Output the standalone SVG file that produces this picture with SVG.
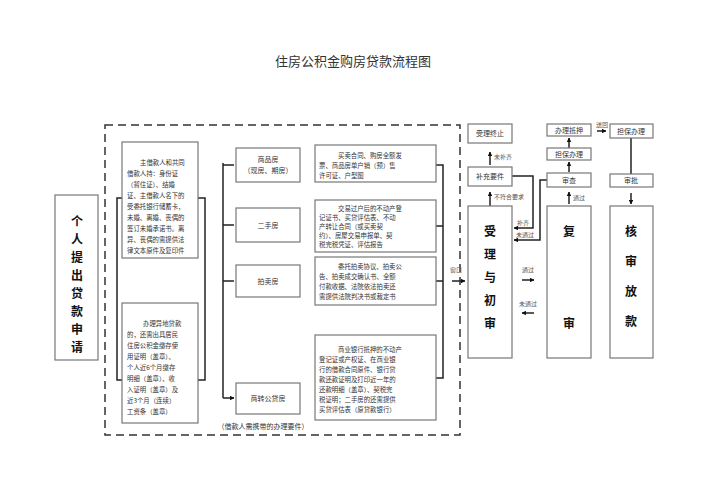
<svg xmlns="http://www.w3.org/2000/svg" width="707" height="500" viewBox="0 0 707 500">
<style>
text{font-family:"Noto Sans CJK SC",sans-serif;fill:#333}
.b{fill:#fff;stroke:#777;stroke-width:1.2}
.s{font-size:7px}
.d{font-size:6.4px}
.t{font-size:6px;fill:#555}
.big{font-size:12px;font-weight:bold;fill:#111}
.l{fill:none;stroke:#222;stroke-width:1.5}
.m{text-anchor:middle}
</style>
<defs><marker id="a" viewBox="0 0 10 10" refX="9" refY="5" markerWidth="3" markerHeight="3" orient="auto"><path d="M0,0L10,5L0,10z" fill="#111"/></marker></defs>
<rect width="707" height="500" fill="#fff"/>
<text x="353" y="66" class="m" font-size="13" fill="#222">住房公积金购房贷款流程图</text>
<rect x="105" y="125" width="355" height="310" fill="none" stroke="#333" stroke-width="1.5" stroke-dasharray="8,5"/>
<g id="connectors">
<rect x="117" y="198" width="88" height="182" class="l"/>
<path class="l" d="M223,163V398"/>
<path class="l" marker-end="url(#a)" d="M223,165H234M223,225H234M223,281H234M223,398H234"/>
<path class="l" d="M436,165H443V378H436M436,226H443M436,281H443"/>
<path class="l" marker-end="url(#a)" d="M452,281H465"/>
<path class="l" marker-end="url(#a)" d="M490,165V152"/>
<path class="l" marker-end="url(#a)" d="M490,207V192"/>
<path class="l" marker-end="url(#a)" d="M512,176H533V228H514"/>
<path class="l" marker-end="url(#a)" d="M547,180H540V240H514"/>
<path class="l" marker-end="url(#a)" d="M569,204V192"/>
<path class="l" marker-end="url(#a)" d="M569,172V162"/>
<path class="l" marker-end="url(#a)" d="M569,148V138"/>
<path class="l" marker-end="url(#a)" d="M597,131H606"/>
<path class="l" d="M631,137V174"/>
<path class="l" marker-end="url(#a)" d="M631,193V204"/>
<path class="l" marker-end="url(#a)" d="M522,280H534"/>
<path class="l" marker-end="url(#a)" d="M534,313H522"/>
</g>
<g id="apply"><rect x="55" y="195" width="43" height="165" class="b"/>
<text class="big m"><tspan x="77" y="226">个</tspan><tspan x="77" y="244">人</tspan><tspan x="77" y="262">提</tspan><tspan x="77" y="280">出</tspan><tspan x="77" y="298">贷</tspan><tspan x="77" y="316">款</tspan><tspan x="77" y="334">申</tspan><tspan x="77" y="352">请</tspan></text></g>
<g id="doc1"><rect x="122" y="142" width="76" height="116" class="b"/>
<text class="d"><tspan x="140" y="165">主借款人和共同</tspan><tspan x="127" y="176">借款人持：身份证</tspan><tspan x="127" y="187">（暂住证）、结婚</tspan><tspan x="127" y="198">证、主借款人名下的</tspan><tspan x="127" y="209">受委托银行储蓄卡，</tspan><tspan x="127" y="220">未婚、离婚、丧偶的</tspan><tspan x="127" y="231">签订未婚承诺书。离</tspan><tspan x="127" y="242">异、丧偶的需提供法</tspan><tspan x="127" y="253">律文本原件及复印件</tspan></text></g>
<g id="doc2"><rect x="122" y="303" width="76" height="120" class="b"/>
<text class="d"><tspan x="143" y="326">办理异地贷款</tspan><tspan x="127" y="337">的，还需出具居民</tspan><tspan x="127" y="348">住房公积金缴存使</tspan><tspan x="127" y="359">用证明（盖章）、</tspan><tspan x="127" y="370">个人近6个月缴存</tspan><tspan x="127" y="381">明细（盖章）、收</tspan><tspan x="127" y="392">入证明（盖章）及</tspan><tspan x="127" y="403">近3个月（连续）</tspan><tspan x="127" y="414">工资条（盖章）</tspan></text></g>
<text class="s m" x="263" y="429">（借款人需携带的办理要件）</text>
<g id="t1"><rect x="236" y="148" width="64" height="34" class="b"/><text class="s m"><tspan x="268" y="162">商品房</tspan><tspan x="268" y="173">（现房、期房）</tspan></text></g>
<g id="t2"><rect x="236" y="208" width="64" height="34" class="b"/><text class="s m" x="268" y="228">二手房</text></g>
<g id="t3"><rect x="236" y="265" width="64" height="32" class="b"/><text class="s m" x="268" y="284">拍卖房</text></g>
<g id="t4"><rect x="236" y="383" width="64" height="31" class="b"/><text class="s m" x="268" y="401">商转公贷房</text></g>
<g id="d1"><rect x="315" y="145" width="121" height="37" class="b"/><text class="d"><tspan x="338" y="158">买卖合同、购房全额发</tspan><tspan x="319" y="168">票、商品房单户销（预）售</tspan><tspan x="319" y="178">许可证、户型图</tspan></text></g>
<g id="d2"><rect x="315" y="200" width="121" height="52" class="b"/><text class="d"><tspan x="338" y="211">交易过户后的不动产登</tspan><tspan x="319" y="220">记证书、买贷评估表、不动</tspan><tspan x="319" y="229">产转让合同（或买卖契</tspan><tspan x="319" y="238">约）、房屋交易申报单、契</tspan><tspan x="319" y="247">税完税凭证、评估报告</tspan></text></g>
<g id="d3"><rect x="315" y="257" width="121" height="48" class="b"/><text class="d"><tspan x="338" y="269">委托拍卖协议、拍卖公</tspan><tspan x="319" y="279">告、拍卖成交确认书、全额</tspan><tspan x="319" y="289">付款收据、法院依法拍卖还</tspan><tspan x="319" y="299">需提供法院判决书或裁定书</tspan></text></g>
<g id="d4"><rect x="315" y="335" width="121" height="85" class="b"/><text class="d"><tspan x="338" y="352">商业银行抵押的不动产</tspan><tspan x="319" y="362">登记证或产权证、在商业银</tspan><tspan x="319" y="372">行的借款合同原件、银行贷</tspan><tspan x="319" y="382">款还款证明及打印近一年的</tspan><tspan x="319" y="392">还款明细（盖章）、契税完</tspan><tspan x="319" y="402">税证明；二手房的还需提供</tspan><tspan x="319" y="412">买贷评估表（原贷款银行）</tspan></text></g>
<text class="t m" x="456" y="272">窗口</text>
<g id="r1"><rect x="468" y="206" width="44" height="152" class="b"/><text class="big m"><tspan x="490" y="236">受</tspan><tspan x="490" y="259">理</tspan><tspan x="490" y="282">与</tspan><tspan x="490" y="305">初</tspan><tspan x="490" y="328">审</tspan></text></g>
<g id="r2"><rect x="547" y="206" width="44" height="152" class="b"/><text class="big m"><tspan x="569" y="236">复</tspan><tspan x="569" y="328">审</tspan></text></g>
<g id="r3"><rect x="610" y="206" width="43" height="152" class="b"/><text class="big m"><tspan x="631" y="236">核</tspan><tspan x="631" y="266">审</tspan><tspan x="631" y="296">放</tspan><tspan x="631" y="326">款</tspan></text></g>
<g id="stop"><rect x="468" y="124" width="44" height="19" class="b"/><text class="s m" x="490" y="136">受理终止</text></g>
<g id="supp"><rect x="468" y="167" width="44" height="19" class="b"/><text class="s m" x="490" y="179">补充要件</text></g>
<g id="check"><rect x="547" y="173" width="44" height="14" class="b"/><text class="s m" x="569" y="183">审查</text></g>
<g id="guar"><rect x="547" y="148" width="44" height="12" class="b"/><text class="s m" x="569" y="157">担保办理</text></g>
<g id="mort"><rect x="547" y="124" width="44" height="12" class="b"/><text class="s m" x="569" y="133">办理抵押</text></g>
<g id="guar2"><rect x="610" y="124" width="43" height="14" class="b"/><text class="s m" x="631" y="134">担保办理</text></g>
<g id="appr"><rect x="610" y="174" width="43" height="13" class="b"/><text class="s m" x="631" y="183">审批</text></g>
<text class="t"><tspan x="494" y="159">未补齐</tspan><tspan x="494" y="199">不符合要求</tspan><tspan x="517" y="225">补齐</tspan><tspan x="516" y="237">未通过</tspan><tspan x="573" y="200">通过</tspan><tspan x="596" y="127">送回</tspan></text>
<text class="t m"><tspan x="528" y="272">通过</tspan><tspan x="528" y="306">未通过</tspan></text>
</svg>
